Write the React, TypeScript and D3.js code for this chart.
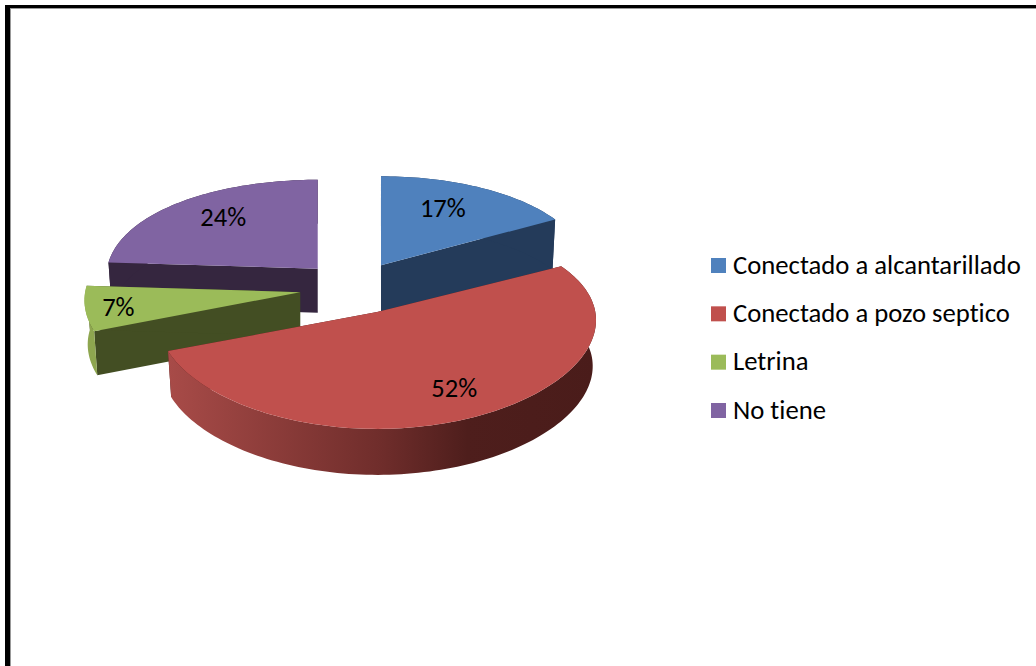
import React from "react";
import * as d3 from "d3";

const categories = ["Conectado a alcantarillado", "Conectado a pozo septico", "Letrina", "No tiene"];
const values = [17, 52, 7, 24];
const topColors = ["#4f81bd", "#c0504d", "#9bbb59", "#8064a2"];
const cutColors = ["#243b5a", "#4d1e1c", "#434e23", "#35263f"];
const rimColors = ["#243b5a", "url(#redWall)", "#8ea64f", "#35263f"];
const labelRadii = [0.66, 0.76, 0.85, 0.73];
const labelDx = [-3, 1, 1, 5];
const labelDy = [-5, -2, 2, -2];
const sliceWidthScale = [0.96, 1.015, 1, 0.98];
const sliceNudgeX = [0, 0.5, -1.5, 0];
const sliceDepth = [50, 46, 44, 44];
const paintOrder = [3, 0, 2, 1];

const W = 1036, H = 666;
const CX = 354, CY = 288, EXPLODE = 53, TILT = 0.5;
const RX = 215, RY = 101, PERSP_X = 0.08, PERSP_Y = 0.136, BOTTOM_SCALE = 0.985;
const FONT = "Carlito, Lato, sans-serif";

const arcs = d3.pie<number>().sort(null).value((d) => d).startAngle(0).endAngle(2 * Math.PI)(values);
const line = d3.line<[number, number]>();

function apexOf(i: number): [number, number] {
  const a = arcs[i];
  const m = (a.startAngle + a.endAngle) / 2;
  return [CX + EXPLODE * Math.sin(m) + sliceNudgeX[i], CY - EXPLODE * TILT * Math.cos(m)];
}
function proj(i: number, t: number, f: number, drop = false): [number, number] {
  const apex = apexOf(i);
  const u = Math.sin(t), v = Math.cos(t);
  const sx = (drop ? BOTTOM_SCALE : 1) * sliceWidthScale[i];
  return [
    apex[0] + (sx * f * RX * u) / (1 + PERSP_X * v),
    apex[1] - (f * RY * v) / (1 + PERSP_Y * v) + (drop ? sliceDepth[i] : 0),
  ];
}
function arcPts(i: number, drop = false): [number, number][] {
  const a = arcs[i];
  const n = Math.max(8, Math.ceil((a.endAngle - a.startAngle) * 40));
  return d3.range(n + 1).map((k) => proj(i, a.startAngle + ((a.endAngle - a.startAngle) * k) / n, 1, drop));
}
function cut(i: number, t: number): string {
  const apex = apexOf(i);
  const bottomApex: [number, number] = [apex[0], apex[1] + sliceDepth[i]];
  return line([apex, proj(i, t, 1), proj(i, t, 1, true), bottomApex])! + "Z";
}

export default function App() {
  const legendY = d3.scalePoint<string>().domain(categories).range([265.5, 410.5]);
  const textStyle = { fontVariantLigatures: "none" } as React.CSSProperties;
  return (
    <svg width={W} height={H} viewBox={`0 0 ${W} ${H}`} style={{ position: "absolute", left: 0, top: 0, display: "block", background: "#fff" }}>
      <defs>
        <linearGradient id="redWall" x1="0" x2="1" y1="0" y2="0">
          <stop offset="0" stopColor="#a84b48" />
          <stop offset="0.5" stopColor="#6f2d2b" />
          <stop offset="0.7" stopColor="#4e1e1c" />
          <stop offset="1" stopColor="#4a1c1a" />
        </linearGradient>
      </defs>

      <rect x={10} y={8} width={W - 10} height={1} fill="#999" />
      <rect x={10} y={8} width={1} height={H - 8} fill="#999" />
      <rect x={5} y={5} width={W - 5} height={3} fill="#000" />
      <rect x={5} y={5} width={5} height={H - 5} fill="#000" />

      {paintOrder.map((i) => {
        const a = arcs[i];
        const top = arcPts(i);
        const bottom = arcPts(i, true).reverse();
        return (
          <g key={categories[i]}>
            <path d={cut(i, a.startAngle)} fill={cutColors[i]} />
            <path d={cut(i, a.endAngle)} fill={cutColors[i]} />
            <path d={line([...top, ...bottom])! + "Z"} fill={rimColors[i]} />
            <path d={line([apexOf(i), ...top])! + "Z"} fill={topColors[i]} />
          </g>
        );
      })}

      {arcs.map((a, i) => {
        const [x, y] = proj(i, (a.startAngle + a.endAngle) / 2, labelRadii[i]);
        return (
          <text key={i} x={x + labelDx[i]} y={y + 8 + labelDy[i]} textAnchor="middle" fontFamily={FONT} fontSize={26.5} fill="#000" style={textStyle}>
            {values[i]}%
          </text>
        );
      })}

      {categories.map((c, i) => {
        const y = legendY(c)!;
        return (
          <g key={c}>
            <rect x={711} y={y - 7.5} width={15} height={15} fill={topColors[i]} />
            <text x={733} y={y + 8} fontFamily={FONT} fontSize={26.7} fill="#000" style={textStyle}>
              {c}
            </text>
          </g>
        );
      })}
    </svg>
  );
}
